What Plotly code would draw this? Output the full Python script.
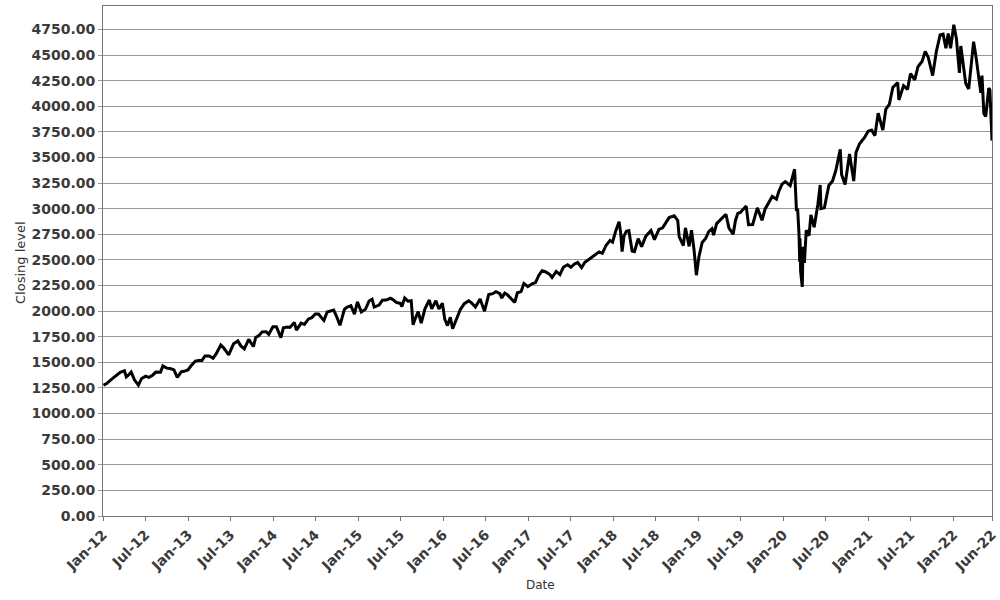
import plotly.graph_objects as go

dates = [
    "2012-01-03","2012-01-17","2012-02-01","2012-02-15","2012-03-01","2012-03-15","2012-04-02","2012-04-10","2012-04-20",
    "2012-05-01","2012-05-15","2012-06-01","2012-06-15","2012-07-02","2012-07-16","2012-08-01","2012-08-15","2012-09-04",
    "2012-09-14","2012-10-01","2012-10-15","2012-11-01","2012-11-15","2012-12-03","2012-12-14","2012-12-31",
    "2013-01-15","2013-02-01","2013-02-15","2013-03-01","2013-03-14","2013-04-01","2013-04-18","2013-05-01","2013-05-21",
    "2013-06-03","2013-06-24","2013-07-01","2013-07-15","2013-08-02","2013-08-15","2013-08-30","2013-09-18","2013-10-08",
    "2013-10-18","2013-11-01","2013-11-15","2013-12-02","2013-12-13","2013-12-31",
    "2014-01-15","2014-02-03","2014-02-14","2014-03-03","2014-03-14","2014-04-02","2014-04-11","2014-05-01","2014-05-15",
    "2014-06-02","2014-06-16","2014-07-01","2014-07-15","2014-08-01","2014-08-07","2014-08-21","2014-09-02","2014-09-18",
    "2014-10-01","2014-10-15","2014-11-03","2014-11-14","2014-12-01","2014-12-16","2014-12-29",
    "2015-01-15","2015-02-02","2015-02-17","2015-03-02","2015-03-11","2015-04-01","2015-04-15","2015-05-01","2015-05-20",
    "2015-06-01","2015-06-15","2015-07-01","2015-07-08","2015-07-20","2015-08-03","2015-08-17","2015-08-25","2015-09-01",
    "2015-09-16","2015-09-29","2015-10-15","2015-11-03","2015-11-13","2015-12-01","2015-12-14","2015-12-29",
    "2016-01-08","2016-01-20","2016-02-01","2016-02-11","2016-02-29","2016-03-15","2016-04-01","2016-04-20","2016-05-02",
    "2016-05-19","2016-06-08","2016-06-27","2016-07-15","2016-08-01","2016-08-15","2016-09-01","2016-09-09","2016-09-22",
    "2016-10-03","2016-10-17","2016-11-04","2016-11-15","2016-12-01","2016-12-13","2016-12-30",
    "2017-01-17","2017-02-01","2017-02-15","2017-03-01","2017-03-15","2017-04-03","2017-04-13","2017-05-01","2017-05-17",
    "2017-06-01","2017-06-19","2017-07-03","2017-07-17","2017-08-01","2017-08-18","2017-09-01","2017-09-15","2017-10-02",
    "2017-10-16","2017-11-01","2017-11-15","2017-12-01","2017-12-18","2017-12-29",
    "2018-01-12","2018-01-26","2018-02-02","2018-02-08","2018-02-16","2018-02-26","2018-03-09","2018-03-23","2018-04-02",
    "2018-04-18","2018-05-03","2018-05-21","2018-06-12","2018-06-27","2018-07-16","2018-08-01","2018-08-29","2018-09-20",
    "2018-10-05","2018-10-11","2018-10-29","2018-11-07","2018-11-23","2018-12-03","2018-12-14","2018-12-24",
    "2019-01-04","2019-01-18","2019-02-01","2019-02-15","2019-03-01","2019-03-08","2019-03-21","2019-04-12","2019-04-30",
    "2019-05-13","2019-05-31","2019-06-10","2019-06-20","2019-07-01","2019-07-26","2019-08-05","2019-08-15","2019-08-23",
    "2019-09-12","2019-10-02","2019-10-15","2019-11-01","2019-11-15","2019-12-03","2019-12-13","2019-12-27",
    "2020-01-10","2020-01-31","2020-02-19","2020-02-27","2020-03-03","2020-03-09","2020-03-12","2020-03-13","2020-03-16",
    "2020-03-23","2020-03-26","2020-04-01","2020-04-09","2020-04-21","2020-04-29","2020-05-13","2020-05-29","2020-06-08",
    "2020-06-11","2020-06-26","2020-07-15","2020-07-31","2020-08-14","2020-09-02","2020-09-08","2020-09-23","2020-10-12",
    "2020-10-30","2020-11-09","2020-11-24","2020-12-15","2020-12-31",
    "2021-01-15","2021-01-29","2021-02-12","2021-03-04","2021-03-17","2021-04-01","2021-04-16","2021-05-07","2021-05-12",
    "2021-06-01","2021-06-18","2021-07-01","2021-07-19","2021-08-02","2021-08-20","2021-09-02","2021-09-15","2021-10-04",
    "2021-10-20","2021-11-05","2021-11-18","2021-11-30","2021-12-10","2021-12-20",
    "2022-01-03","2022-01-14","2022-01-27","2022-02-02","2022-02-14","2022-02-23","2022-03-08","2022-03-29","2022-04-08",
    "2022-04-29","2022-05-04","2022-05-12","2022-05-20","2022-06-02","2022-06-07","2022-06-13","2022-06-16",
]

closing = [
    1277,1293,1324,1351,1374,1402,1419,1358,1378,
    1406,1330,1278,1343,1365,1353,1375,1405,1404,
    1466,1444,1440,1427,1353,1409,1413,1426,
    1472,1513,1519,1518,1563,1562,1541,1582,1669,
    1640,1573,1614,1682,1709,1661,1633,1725,1655,
    1744,1762,1798,1800,1775,1848,
    1848,1742,1838,1845,1841,1890,1815,1883,1870,
    1924,1937,1973,1973,1925,1910,1992,2002,2011,
    1946,1862,2017,2039,2053,1972,2090,
    1992,2020,2100,2117,2040,2059,2106,2108,2126,
    2111,2084,2077,2046,2128,2098,2102,1867,1914,
    1995,1884,2023,2109,2023,2102,2021,2078,
    1922,1859,1940,1829,1932,2016,2073,2102,2081,
    2040,2119,2000,2162,2171,2190,2171,2128,2177,
    2161,2127,2085,2180,2191,2271,2239,
    2267,2279,2349,2395,2385,2359,2329,2388,2357,
    2430,2453,2429,2459,2476,2425,2477,2500,2529,
    2557,2579,2565,2642,2690,2674,
    2786,2873,2762,2581,2732,2780,2786,2588,2582,
    2708,2630,2733,2787,2699,2798,2813,2914,2931,
    2886,2728,2641,2814,2633,2790,2600,2351,
    2532,2671,2707,2776,2804,2743,2855,2907,2946,
    2812,2752,2886,2954,2964,3026,2845,2848,2847,
    3009,2888,2996,3067,3120,3093,3169,3240,
    3265,3226,3386,2979,3003,2747,2481,2711,2386,
    2237,2630,2471,2790,2737,2940,2820,3044,3232,
    3002,3009,3227,3271,3373,3580,3332,3237,3535,
    3270,3550,3635,3694,3756,
    3768,3714,3934,3768,3974,4020,4185,4233,4063,
    4202,4166,4320,4258,4387,4441,4537,4480,4300,
    4536,4697,4705,4567,4712,4568,
    4797,4663,4326,4589,4401,4225,4170,4632,4488,
    4132,4300,3930,3901,4177,4161,3750,3666,
]

tick_dates = ["2012-01-01","2012-07-01","2013-01-01","2013-07-01","2014-01-01","2014-07-01",
              "2015-01-01","2015-07-01","2016-01-01","2016-07-01","2017-01-01","2017-07-01",
              "2018-01-01","2018-07-01","2019-01-01","2019-07-01","2020-01-01","2020-07-01",
              "2021-01-01","2021-07-01","2022-01-01","2022-06-16"]
tick_labels = ["Jan-12","Jul-12","Jan-13","Jul-13","Jan-14","Jul-14","Jan-15","Jul-15",
               "Jan-16","Jul-16","Jan-17","Jul-17","Jan-18","Jul-18","Jan-19","Jul-19",
               "Jan-20","Jul-20","Jan-21","Jul-21","Jan-22","Jun-22"]

y_ticks = [i * 250 for i in range(20)]

fig = go.Figure()
fig.add_trace(go.Scatter(x=dates, y=closing, mode="lines",
                         line=dict(color="black", width=3), showlegend=False))

tick_font = dict(family="DejaVu Sans", size=14, color="#3a3a3a", weight="bold")

L, R, T, B = 103, 8, 6, 84
pw = 1000 - L - R
ph = 600 - T - B

fig.update_layout(
    width=1000, height=600,
    margin=dict(l=L, r=R, t=T, b=B, autoexpand=False),
    paper_bgcolor="white", plot_bgcolor="white",
    xaxis=dict(
        type="date", range=["2012-01-01", "2022-06-16"], automargin=False,
        tickmode="array", tickvals=tick_dates, ticktext=tick_labels,
        tickangle=-45, tickfont=tick_font,
        showgrid=False, zeroline=False,
        showline=True, linecolor="#777", linewidth=1, mirror=True,
        ticks="outside", ticklen=4, tickcolor="#777",
    ),
    yaxis=dict(
        range=[0, 4980], automargin=False, tickmode="array", tickvals=y_ticks,
        ticktext=[f"{v:.2f}" for v in y_ticks], tickfont=tick_font,
        showgrid=True, gridcolor="#999", gridwidth=1, zeroline=False,
        showline=True, linecolor="#777", linewidth=1, mirror=True,
        ticks="outside", ticklen=4, tickcolor="#999",
    ),
    annotations=[
        dict(text="Date", x=(540 - L) / pw, y=(516 - 585) / ph, xref="paper", yref="paper",
             showarrow=False, xanchor="center", yanchor="middle",
             font=dict(family="DejaVu Sans", size=12, color="#333")),
        dict(text="Closing level", x=(20 - L) / pw, y=(516 - 263) / ph, xref="paper", yref="paper",
             showarrow=False, textangle=-90, xanchor="center", yanchor="middle",
             font=dict(family="DejaVu Sans", size=13, color="#333")),
    ],
)

fig.write_html("out.html", config={"displayModeBar": False},
               post_script="document.body.style.margin='0';document.body.style.overflow='hidden';")
